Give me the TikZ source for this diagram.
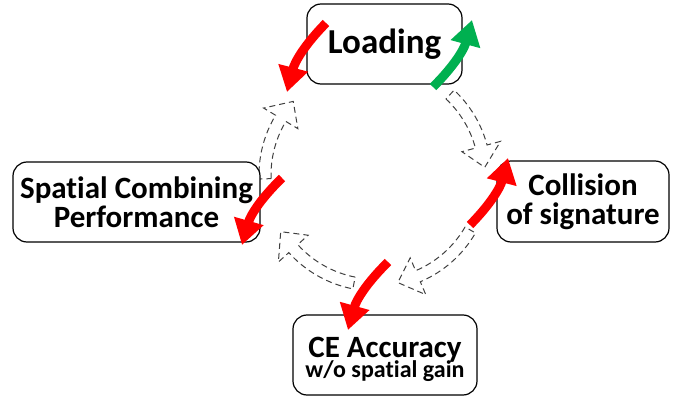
\documentclass[tikz,border=0pt]{standalone}
\usepackage{fontspec}
\setmainfont[Ligatures={NoCommon}]{Carlito}
\usetikzlibrary{arrows.meta}
\definecolor{upgreen}{RGB}{0,176,80}
\newcommand{\tightlines}{\setlength{\lineskiplimit}{-50pt}\setlength{\lineskip}{0pt}}

\begin{document}
\begin{tikzpicture}[x=1pt,y=1pt]
    \newcommand{\rin}{104} % inner radius of the hollow shafts
    \newcommand{\rout}{116} % outer radius of the hollow shafts
    \newcommand{\hd}{11} % angular length of the hollow heads

    % set the styles
    \tikzset{
        box/.style={
            draw, line width=1.2pt, rounded corners=14pt, fill=white,
            inner sep=0pt, align=center,
            font=\bfseries\fontsize{31}{29}\selectfont\tightlines
            },
        hollow/.style={
            draw=black!75, line width=1pt, dash pattern=on 6pt off 4pt
            },
        fall/.style={
            draw=red, line width=9pt,
            -{Triangle[length=25pt,width=29pt]}
            },
        rise/.style={
            fall, draw=upgreen
            }
    }

    \useasboundingbox (0,0) rectangle (689,-396);

    % one dashed hollow arrow of the cycle, from angle #1 to angle #2
    \newcommand{\cyclearc}[2]{
        \draw[hollow] (#1:\rin) arc[start angle=#1, end angle=#2+\hd, radius=\rin]
            -- (#2+\hd:90) -- (#2:110) -- (#2+\hd:130) -- (#2+\hd:\rout)
            arc[start angle=#2+\hd, end angle=#1, radius=\rout] -- cycle;
    }

    % cycle
    \coordinate (hub) at (375,-175);
    \begin{scope}[shift={(hub)}]
        \cyclearc{182}{138}
        \cyclearc{47}{4}
        \cyclearc{-30}{-78}
        \cyclearc{259}{211}
    \end{scope}

    % boxes
    \node[box, minimum width=155pt, minimum height=80pt, font=\bfseries\fontsize{35}{35}\selectfont]
        (load) at (384.5,-44) {Loading};
    \node[box, minimum width=247pt, minimum height=80pt]
        (spat) at (136.5,-202) {Spatial Combining\\Performance};
    \node[box, minimum width=172pt, minimum height=81pt]
        (coll) at (583,-201.5) {Collision\\of signature};
    \node[box, minimum width=184pt, minimum height=80pt,
        font=\bfseries\fontsize{24}{20}\selectfont\tightlines]
        (ce) at (385,-355) {{\fontsize{31}{20}\selectfont\rule{0pt}{29pt}CE Accuracy}\\w/o spatial gain};

    % trend arrows
    \coordinate (loadS) at (326,-23);
    \coordinate (loadE) at (287,-92);
    \coordinate (upS) at (433,-87);
    \coordinate (upE) at (472,-20);
    \coordinate (spatS) at (282,-178);
    \coordinate (spatE) at (242,-245);
    \coordinate (collS) at (470,-225);
    \coordinate (collE) at (508,-158);
    \coordinate (ceS) at (388,-262);
    \coordinate (ceE) at (348,-330);

    \draw[fall] (loadS) to[bend right=15] (loadE);
    \draw[rise] (upS) to[bend right=15] (upE);
    \draw[fall] (spatS) to[bend right=15] (spatE);
    \draw[fall] (collS) to[bend right=15] (collE);
    \draw[fall] (ceS) to[bend right=15] (ceE);

\end{tikzpicture}
\end{document}
